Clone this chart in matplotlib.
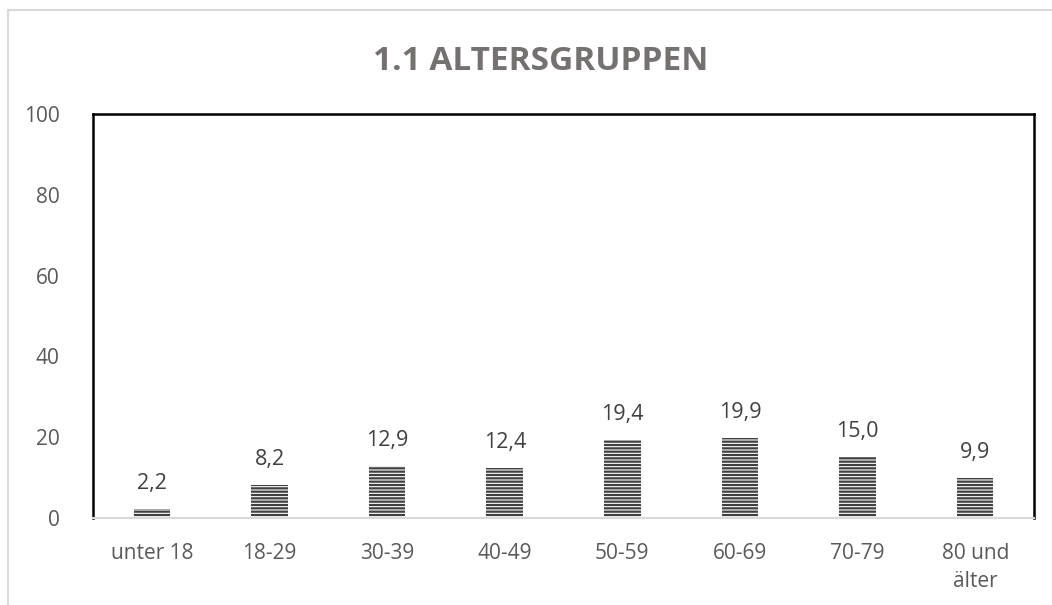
import matplotlib.pyplot as plt
from matplotlib.patches import Rectangle

# age groups and share in percent
gruppen = ['unter 18', '18-29', '30-39', '40-49', '50-59', '60-69', '70-79', '80 und\nälter']
werte = [2.2, 8.2, 12.9, 12.4, 19.4, 19.9, 15.0, 9.9]
y_ticks = [0, 20, 40, 60, 80, 100]

plt.rcParams['font.family'] = ['Open Sans', 'DejaVu Sans']
plt.rcParams['hatch.linewidth'] = 1.6

fig = plt.figure(figsize=(10.52, 6.05), dpi=100)
ax = fig.add_axes([93 / 1052, 1 - 518 / 605, (1034 - 93) / 1052, (518 - 114) / 605])

# light grey outer frame of the chart
fig.patches.append(Rectangle((8 / 1052, -0.1), 1.1, 1 - 10 / 605 + 0.1, transform=fig.transFigure,
                             fill=False, edgecolor='#d9d9d9', linewidth=1.5))

x = range(len(gruppen))
bars = ax.bar(x, werte, width=0.31, color='white', edgecolor='#404040', linewidth=0, hatch='-----')

for i, v in enumerate(werte):
    ax.text(i, v + 3.7, f'{v:.1f}'.replace('.', ','), ha='center', va='bottom',
            fontsize=15.5, color='#404040')

ax.set_xlim(-0.5, len(gruppen) - 0.5)
ax.set_ylim(0, 100)
ax.set_yticks(y_ticks)
ax.set_xticks(list(x))
ax.set_xticklabels(gruppen)
ax.tick_params(axis='both', length=0, labelsize=15, colors='#595959')
ax.tick_params(axis='x', pad=18)
ax.tick_params(axis='y', pad=24)
for lab in ax.get_xticklabels():
    lab.set_linespacing(1.45)

for s in ['left', 'top', 'right']:
    ax.spines[s].set_color('black')
    ax.spines[s].set_linewidth(1.8)
ax.spines['bottom'].set_color('#d9d9d9')
ax.spines['bottom'].set_linewidth(1.5)

fig.text(541 / 1052, 1 - 61 / 605, '1.1 ALTERSGRUPPEN', ha='center', va='center',
         fontsize=24, fontweight='bold', color='#767171')

fig.savefig('out.png', dpi=100)
